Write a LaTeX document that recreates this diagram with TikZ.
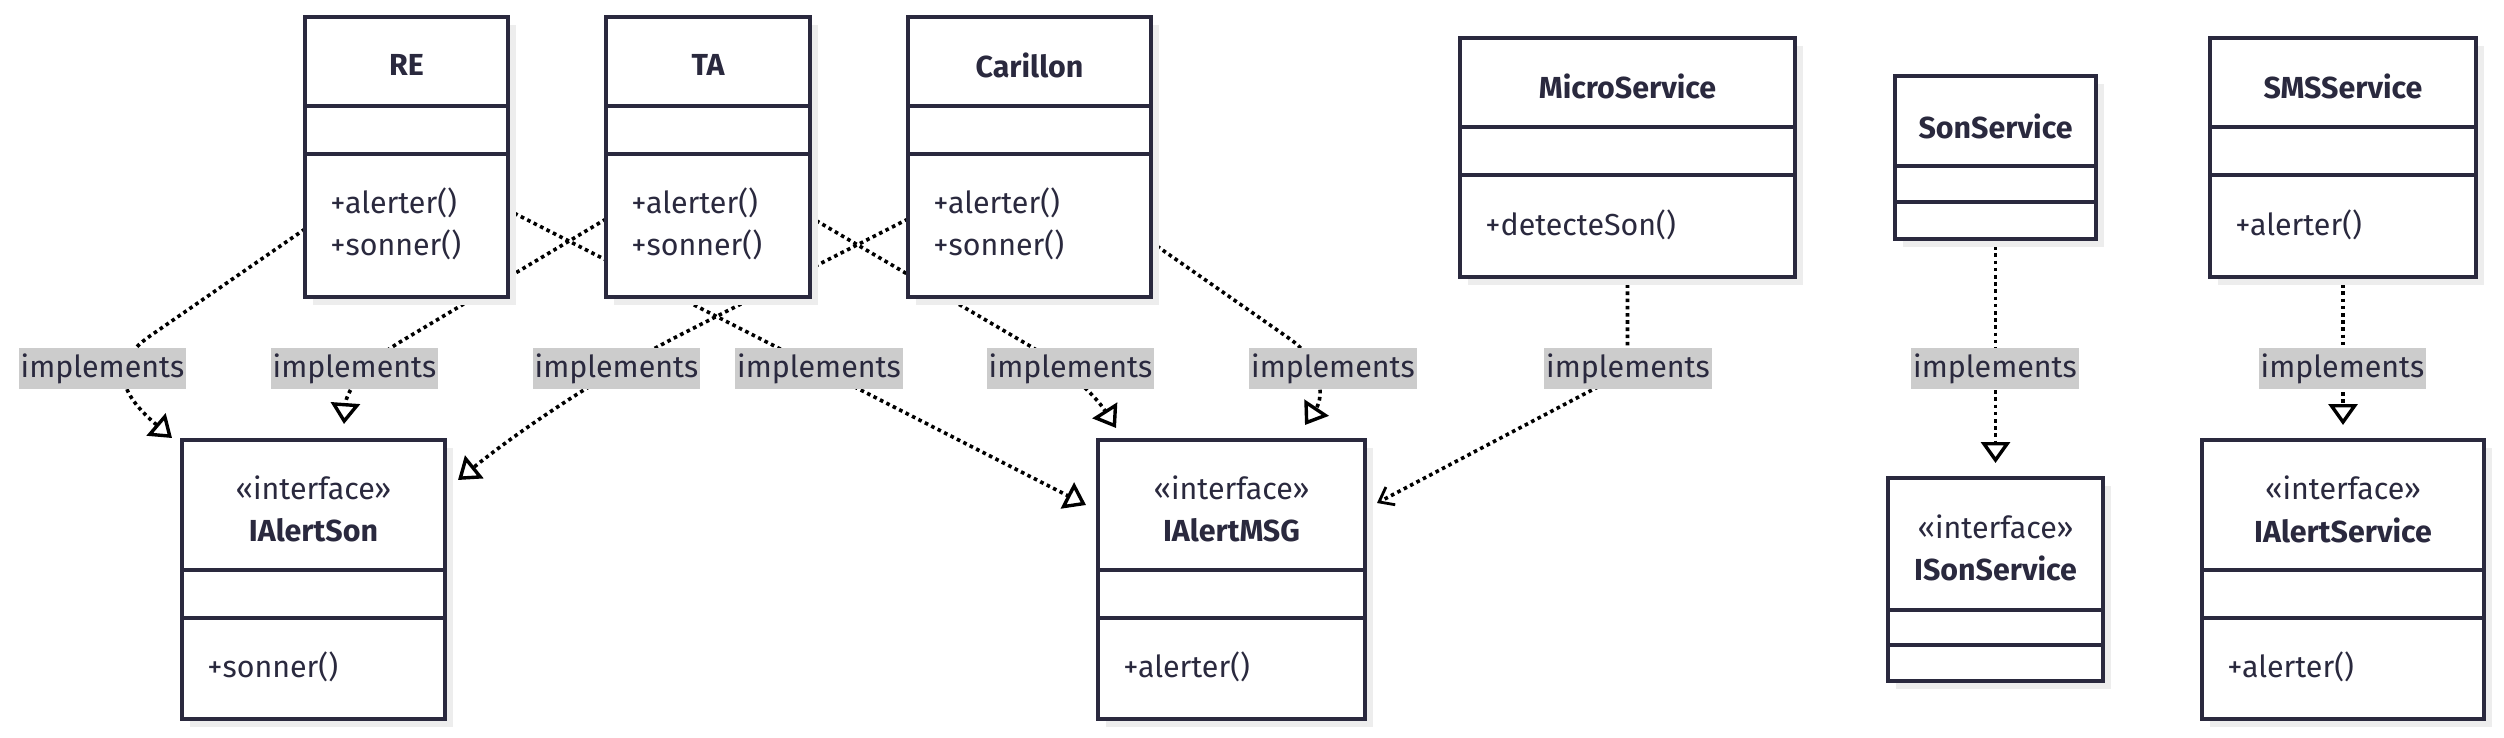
\documentclass[tikz,border=0pt]{standalone}
\usepackage{fontspec}
\setmainfont{Fira Sans}
\usetikzlibrary{arrows.meta,calc}
\definecolor{ink}{HTML}{2A293E}
\definecolor{lblbg}{HTML}{CCCCCC}
\definecolor{shadowc}{HTML}{EDEDED}
\pgfdeclarelayer{paper}
\pgfdeclarelayer{bg}
\pgfsetlayers{paper,bg,main}
\newcommand{\fs}{\fontsize{15.2pt}{18pt}\selectfont}
\newcommand{\umlclass}[7]{%
  \fill[shadowc] (#2+8,#3+8) rectangle (#4+8,#5+8);
  \node[classbox, minimum width={(#4-#2)*0.5pt}, minimum height={(#5-#3)*0.5pt}] (#1) at ({(#2+#4)/2},{(#3+#5)/2}) {};
  \draw[boxline] (#2,#6) -- (#4,#6);
  \draw[boxline] (#2,#7) -- (#4,#7);
}
\tikzset{
  classbox/.style={draw=ink, line width=1.6pt, fill=white, rectangle, inner sep=0pt, outer sep=0pt},
  boxline/.style={draw=ink, line width=1.6pt},
  ttl/.style={font={\fs\bfseries}, text=ink, inner sep=0pt},
  txt/.style={font=\fs, text=ink, inner sep=0pt},
  mth/.style={font=\fs, text=ink, inner sep=0pt, anchor=west},
  lbl/.style={font=\fs, fill=lblbg, text=ink, inner xsep=1pt, inner ysep=0pt, minimum height=20.5pt},
  rel/.style={draw=black, line width=1.8pt, dash pattern=on 1.8pt off 1.8pt,
    -{Triangle[open, length=10.5pt, width=14.5pt, line width=1.7pt]}},
  dep/.style={draw=black, line width=1.8pt, dash pattern=on 1.8pt off 1.8pt,
    -{Straight Barb[length=6.5pt, width=10pt, line width=1.4pt]}},
}
\begin{document}
\begin{tikzpicture}[x=0.5pt,y=-0.5pt]
\useasboundingbox (0,0) rectangle (2504,738);
\begin{pgfonlayer}{paper}
\fill[white] (0,0) rectangle (2504,738);
\end{pgfonlayer}

% classes
\umlclass{RE}{305}{17}{508}{297}{106}{154}
\umlclass{TA}{606}{17}{810}{297}{106}{154}
\umlclass{Carillon}{908}{17}{1151}{297}{106}{154}
\umlclass{MicroService}{1460}{38}{1795}{277}{127}{175}
\umlclass{SonService}{1895}{76}{2096}{239}{166}{202}
\umlclass{SMSService}{2210}{38}{2476}{277}{127}{175}
\umlclass{IAlertSon}{182}{440}{445}{719}{570}{618}
\umlclass{IAlertMSG}{1098}{440}{1365}{719}{570}{618}
\umlclass{ISonService}{1888}{478}{2103}{681}{610}{645}
\umlclass{IAlertService}{2202}{440}{2484}{719}{570}{618}

% texts
\node[ttl] (REt) at (406.5,65) {RE};
\node[mth] (REm1) at (330,203) {+alerter()};
\node[mth] (REm2) at (330,245) {+sonner()};
\node[ttl] (TAt) at (708,65) {TA};
\node[mth] (TAm1) at (631,203) {+alerter()};
\node[mth] (TAm2) at (631,245) {+sonner()};
\node[ttl] (Cat) at (1029.5,65) {Carillon};
\node[mth] (Cam1) at (933,203) {+alerter()};
\node[mth] (Cam2) at (933,245) {+sonner()};
\node[ttl] (MSt) at (1627.5,86) {MicroService};
\node[mth] (MSm1) at (1485,225) {+detecteSon()};
\node[ttl] (SSt) at (1995.5,126) {SonService};
\node[ttl] (SMt) at (2343,86) {SMSService};
\node[mth] (SMm1) at (2235,225) {+alerter()};
\node[txt] (IASs) at (313.5,488) {«interface»};
\node[ttl] (IASt) at (313.5,530) {IAlertSon};
\node[mth] (IASm) at (207,667) {+sonner()};
\node[txt] (IAMs) at (1231.5,488) {«interface»};
\node[ttl] (IAMt) at (1231.5,530) {IAlertMSG};
\node[mth] (IAMm) at (1123,667) {+alerter()};
\node[txt] (ISSs) at (1995.5,527) {«interface»};
\node[ttl] (ISSt) at (1995.5,568) {ISonService};
\node[txt] (IAVs) at (2343,488) {«interface»};
\node[ttl] (IAVt) at (2343,530) {IAlertService};
\node[mth] (IAVm) at (2227,667) {+alerter()};

% connectors
\begin{pgfonlayer}{bg}
\draw[rel] ($(RE.north west)+(0,212)$) -- (150,336) .. controls (105,367) and (125,398) .. ($(IAlertSon.north west)+(-10,-2)$);
\draw[rel] ($(RE.north east)+(0,193)$) -- ($(IAlertMSG.north west)+(-12,65)$);
\draw[rel] ($(TA.north west)+(0,202)$) -- (400,342) .. controls (360,366) and (346,395) .. ($(IAlertSon.north west)+(162,-16)$);
\draw[rel] ($(TA.north east)+(0,200)$) -- (1030,346) .. controls (1065,367) and (1095,395) .. ($(IAlertMSG.north west)+(18,-12)$);
\draw[rel] ($(Carillon.north west)+(0,202)$) -- (680,335) .. controls (600,376) and (520,430) .. ($(IAlertSon.north east)+(13,40)$);
\draw[rel] ($(Carillon.north east)+(0,225)$) -- (1290,339) .. controls (1320,360) and (1325,395) .. ($(IAlertMSG.north west)+(207,-15)$);
\draw[dep] (MicroService.south) -- (1627.5,345) .. controls (1627.5,372) and (1610,381) .. (1590,391) -- ($(IAlertMSG.north east)+(12,63)$);
\draw[rel] (SonService.south) -- ($(ISonService.north)+(0,-15)$);
\draw[rel] (SMSService.south) -- ($(IAlertService.north)+(0,-15)$);
\end{pgfonlayer}

% labels
\node[lbl] (L1) at (102.5,368.5) {implements};
\node[lbl] (L2) at (354.5,368.5) {implements};
\node[lbl] (L3) at (616.5,368.5) {implements};
\node[lbl] (L4) at (819,368.5) {implements};
\node[lbl] (L5) at (1070.5,368.5) {implements};
\node[lbl] (L6) at (1333,368.5) {implements};
\node[lbl] (L7) at (1628,368.5) {implements};
\node[lbl] (L8) at (1995,368.5) {implements};
\node[lbl] (L9) at (2342.5,368.5) {implements};
\end{tikzpicture}
\end{document}
